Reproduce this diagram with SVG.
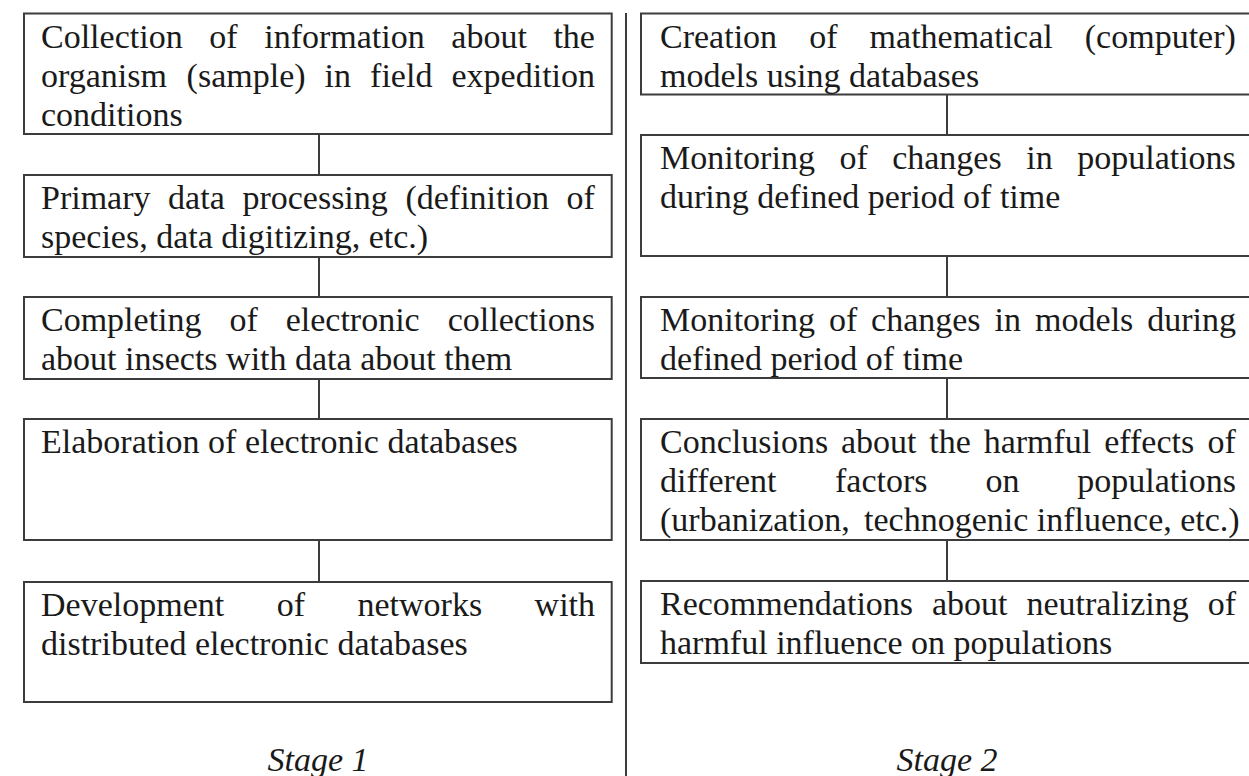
<svg xmlns="http://www.w3.org/2000/svg" width="1249" height="776" viewBox="0 0 1249 776">
<style>
.box{fill:#fff;stroke:#3c3c3c;stroke-width:2}
.conn{stroke:#3c3c3c;stroke-width:2;fill:none}
.t{font-family:"Liberation Serif","Times New Roman",serif;font-size:34px;fill:#1a1a1a}
.st{font-family:"Liberation Serif","Times New Roman",serif;font-size:34px;font-style:italic;fill:#1a1a1a;text-anchor:middle}
</style>
<rect width="1249" height="776" fill="#fff"/>
<g id="connectors">
<line class="conn" x1="626" y1="13" x2="626" y2="776"/>
<line class="conn" x1="319" y1="134" x2="319" y2="175"/>
<line class="conn" x1="319" y1="257" x2="319" y2="297"/>
<line class="conn" x1="319" y1="379" x2="319" y2="419"/>
<line class="conn" x1="319" y1="540" x2="319" y2="582"/>
<line class="conn" x1="947" y1="94.5" x2="947" y2="135"/>
<line class="conn" x1="947" y1="256" x2="947" y2="297"/>
<line class="conn" x1="947" y1="378" x2="947" y2="419"/>
<line class="conn" x1="947" y1="540" x2="947" y2="581"/>
</g>
<g id="L1">
<rect class="box" x="24" y="13.5" width="587.7" height="120.5"/>
<text class="t" y="47.5"><tspan x="41">Collection</tspan><tspan x="209.3">of</tspan><tspan x="264.2">information</tspan><tspan x="451.3">about</tspan><tspan x="553.4">the</tspan></text>
<text class="t" y="86.5"><tspan x="41">organism</tspan><tspan x="186.6">(sample)</tspan><tspan x="324.6">in</tspan><tspan x="370.1">field</tspan><tspan x="451.5">expedition</tspan></text>
<text class="t" x="41" y="125.5">conditions</text>
</g>
<g id="L2">
<rect class="box" x="24" y="175" width="587.7" height="82"/>
<text class="t" y="209"><tspan x="41">Primary</tspan><tspan x="168.1">data</tspan><tspan x="242.4">processing</tspan><tspan x="405.4">(definition</tspan><tspan x="566.6">of</tspan></text>
<text class="t" x="41" y="248">species, data digitizing, etc.)</text>
</g>
<g id="L3">
<rect class="box" x="24" y="297" width="587.7" height="82"/>
<text class="t" y="331"><tspan x="41">Completing</tspan><tspan x="229.5">of</tspan><tspan x="285.7">electronic</tspan><tspan x="447.7">collections</tspan></text>
<text class="t" x="41" y="370">about insects with data about them</text>
</g>
<g id="L4">
<rect class="box" x="24" y="419" width="587.7" height="121"/>
<text class="t" x="41" y="453">Elaboration of electronic databases</text>
</g>
<g id="L5">
<rect class="box" x="24" y="582" width="587.7" height="120"/>
<text class="t" y="616"><tspan x="41">Development</tspan><tspan x="276.7">of</tspan><tspan x="357.5">networks</tspan><tspan x="534.6">with</tspan></text>
<text class="t" x="41" y="655">distributed electronic databases</text>
</g>
<g id="R1">
<rect class="box" x="641" y="13.5" width="612" height="81"/>
<text class="t" y="47.5"><tspan x="660">Creation</tspan><tspan x="809.2">of</tspan><tspan x="869.6">mathematical</tspan><tspan x="1084.8">(computer)</tspan></text>
<text class="t" x="660" y="86.5">models using databases</text>
</g>
<g id="R2">
<rect class="box" x="641" y="135" width="612" height="121"/>
<text class="t" y="169"><tspan x="660">Monitoring</tspan><tspan x="839.4">of</tspan><tspan x="892.2">changes</tspan><tspan x="1026.2">in</tspan><tspan x="1077.2">populations</tspan></text>
<text class="t" x="660" y="208">during defined period of time</text>
</g>
<g id="R3">
<rect class="box" x="641" y="297" width="612" height="81"/>
<text class="t" y="331"><tspan x="660">Monitoring</tspan><tspan x="828.9">of</tspan><tspan x="871.1">changes</tspan><tspan x="994.6">in</tspan><tspan x="1035.1">models</tspan><tspan x="1147.3">during</tspan></text>
<text class="t" x="660" y="370">defined period of time</text>
</g>
<g id="R4">
<rect class="box" x="641" y="419" width="612" height="121"/>
<text class="t" y="453"><tspan x="660">Conclusions</tspan><tspan x="840.9">about</tspan><tspan x="929.3">the</tspan><tspan x="983.7">harmful</tspan><tspan x="1104.2">effects</tspan><tspan x="1207.6">of</tspan></text>
<text class="t" y="492"><tspan x="660">different</tspan><tspan x="835">factors</tspan><tspan x="985.4">on</tspan><tspan x="1077.3">populations</tspan></text>
<text class="t" y="531"><tspan x="660">(urbanization,</tspan><tspan x="864">technogenic influence, etc.)</tspan></text>
</g>
<g id="R5">
<rect class="box" x="641" y="581" width="612" height="82"/>
<text class="t" y="615"><tspan x="660">Recommendations</tspan><tspan x="932">about</tspan><tspan x="1026.4">neutralizing</tspan><tspan x="1207.7">of</tspan></text>
<text class="t" x="660" y="654">harmful influence on populations</text>
</g>
<g id="labels">
<text class="st" x="318" y="771">Stage 1</text>
<text class="st" x="947" y="771">Stage 2</text>
</g>
</svg>
